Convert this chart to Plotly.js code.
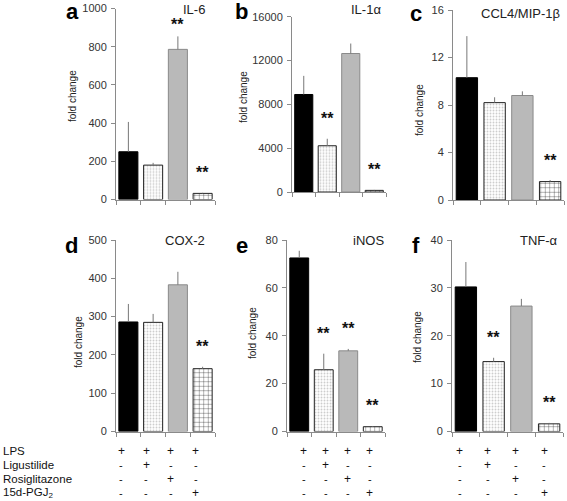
<!DOCTYPE html>
<html>
<head>
<meta charset="utf-8">
<script src="https://cdn.plot.ly/plotly-3.0.1.min.js"></script>
<style>html,body{margin:0;padding:0;background:#fff}#chart{width:567px;height:501px}</style>
</head>
<body>
<div id="chart"></div>
<script>
// ---- data ----
const groups = ["LPS", "LPS+Ligustilide", "LPS+Rosiglitazone", "LPS+15d-PGJ2"];
const panelLetters = ["a", "b", "c", "d", "e", "f"];
const panelTitles = ["IL-6", "IL-1α", "CCL4/MIP-1β", "COX-2", "iNOS", "TNF-α"];

const il6 = [250, 180, 786, 32];
const il6Err = [156, 12, 68, 3];
const il6Sig = ["", "", "**", "**"];

const il1a = [8900, 4220, 12640, 150];
const il1aErr = [1700, 640, 910, 40];
const il1aSig = ["", "**", "", "**"];

const ccl4 = [10.3, 8.2, 8.8, 1.55];
const ccl4Err = [3.5, 0.45, 0.35, 0.13];
const ccl4Sig = ["", "", "", "**"];

const cox2 = [286, 285, 383, 164];
const cox2Err = [47, 22, 34, 5];
const cox2Sig = ["", "", "", "**"];

const inos = [72.5, 25.8, 33.7, 2.0];
const inosErr = [3, 6.7, 0.8, 0.3];
const inosSig = ["", "**", "**", "**"];

const tnfa = [30.2, 14.6, 26.2, 1.6];
const tnfaErr = [5.2, 0.8, 1.5, 0.2];
const tnfaSig = ["", "**", "", "**"];

const yMax = [1000, 16000, 16, 500, 80, 40];
const yDtick = [200, 4000, 4, 100, 20, 10];

const rowLabels = ["LPS", "Ligustilide", "Rosiglitazone", "15d-PGJ<sub>2</sub>"];
const rowLPS = ["+", "+", "+", "+"];
const rowLig = ["-", "+", "-", "-"];
const rowRosi = ["-", "-", "+", "-"];
const rowPGJ = ["-", "-", "-", "+"];

// ---- styles per group ----
const groupStyle = [
  {color: "#000000", line: "#000000", pattern: null},
  {color: "#ffffff", line: "#222222", pattern: {shape: ".", fgcolor: "#cdcdcd", bgcolor: "#ffffff", size: 3, solidity: 0.3, fillmode: "replace"}},
  {color: "#b9b9b9", line: "#8a8a8a", pattern: null},
  {color: "#ffffff", line: "#222222", pattern: {shape: "+", fgcolor: "#222222", bgcolor: "#ffffff", size: 4.5, solidity: 0.15, fillmode: "replace"}}
];

// ---- layout geometry (pixels) ----
const W = 567, H = 501;
const px = (a, b) => [a / W, b / W];
const py = (bottom, top) => [1 - bottom / H, 1 - top / H];
const geom = [
  {x: px(116, 215), y: py(199.5, 8.5)},
  {x: px(292, 386), y: py(192, 16.7)},
  {x: px(453, 564), y: py(200, 10)},
  {x: px(116, 215), y: py(431.5, 240)},
  {x: px(287, 385), y: py(431.5, 240)},
  {x: px(452, 563), y: py(431.5, 240)}
];
const letterPos = [[72, 12], [241, 11], [416, 13], [71, 245], [242, 245], [416, 245]];
const titleRight = [[207, 9], [383, 10], [562, 13], [207, 240], [386, 240], [560, 240]];
const yTitlePos = [[73, 96], [243, 97], [419, 110], [78, 342], [252, 333], [417, 337]];
// table column offset (px) relative to bar centres: [base, per-column]
const tableShift = {x4: [-7, 0], x5: [4.5, -2.5], x6: [-6, 0.3]};
const rowY = [451, 464.5, 478.5, 492.5];

const vals = [il6, il1a, ccl4, cox2, inos, tnfa];
const errs = [il6Err, il1aErr, ccl4Err, cox2Err, inosErr, tnfaErr];
const sigs = [il6Sig, il1aSig, ccl4Sig, cox2Sig, inosSig, tnfaSig];

const FONT = "Arial, 'Liberation Sans', sans-serif";
const AX = "#8a8a8a";

const traces = [];
const layout = {
  width: W, height: H,
  margin: {l: 0, r: 0, t: 0, b: 0},
  paper_bgcolor: "#fff", plot_bgcolor: "rgba(0,0,0,0)",
  showlegend: false,
  font: {family: FONT, color: "#333"},
  barmode: "overlay",
  annotations: []
};

vals.forEach((v, i) => {
  const n = i + 1;
  const xa = "x" + (n === 1 ? "" : n), ya = "y" + (n === 1 ? "" : n);
  v.forEach((val, k) => {
    const st = groupStyle[k];
    const marker = {color: st.color, line: {color: st.line, width: 1}};
    if (st.pattern) marker.pattern = st.pattern;
    traces.push({
      type: "bar",
      name: groups[k],
      x: [k],
      y: [val],
      xaxis: xa, yaxis: ya,
      width: 0.77,
      marker: marker,
      error_y: {
        type: "data", symmetric: false,
        array: [errs[i][k]], arrayminus: [0],
        width: 0, thickness: 1, color: "#777"
      }
    });
  });
  const xk = "xaxis" + (n === 1 ? "" : n), yk = "yaxis" + (n === 1 ? "" : n);
  layout[xk] = {
    domain: geom[i].x, anchor: ya, range: [-0.5, 3.5],
    showline: true, linecolor: AX, linewidth: 1,
    showgrid: false, zeroline: false,
    tickmode: "array", tickvals: [-0.5, 0.5, 1.5, 2.5, 3.5], showticklabels: false,
    ticks: "outside", ticklen: 4, tickcolor: AX, fixedrange: true
  };
  layout[yk] = {
    domain: geom[i].y, anchor: xa, range: [0, yMax[i]],
    showline: true, linecolor: AX, linewidth: 1,
    showgrid: false, zeroline: false,
    tick0: 0, dtick: yDtick[i], tickformat: "d",
    ticks: "outside", ticklen: 4, tickcolor: AX,
    ticklabelstandoff: 2,
    tickfont: {family: FONT, size: 11, color: "#333"}, fixedrange: true
  };
  // significance stars: above error bar tops (in data coords)
  const plotTopPx = (1 - geom[i].y[1]) * H;
  const plotBotPx = (1 - geom[i].y[0]) * H;
  sigs[i].forEach((s, k) => {
    if (!s) return;
    const top = v[k] + errs[i][k];
    const topPx = plotBotPx - (top / yMax[i]) * (plotBotPx - plotTopPx);
    const shift = Math.min(20, topPx - plotTopPx - 16);
    layout.annotations.push({
      xref: xa, yref: ya, x: k, y: top, yshift: shift,
      text: "<b>" + s + "</b>", showarrow: false,
      font: {family: FONT, size: 16, color: "#111"}, yanchor: "middle"
    });
  });
  // panel letter
  layout.annotations.push({
    xref: "paper", yref: "paper",
    x: letterPos[i][0] / W, y: 1 - letterPos[i][1] / H,
    text: "<b>" + panelLetters[i] + "</b>", showarrow: false,
    font: {family: FONT, size: 22, color: "#000"}, xanchor: "center", yanchor: "middle"
  });
  // panel title
  layout.annotations.push({
    xref: "paper", yref: "paper",
    x: titleRight[i][0] / W, y: 1 - titleRight[i][1] / H,
    text: panelTitles[i], showarrow: false,
    font: {family: FONT, size: 13, color: "#222"}, xanchor: "right", yanchor: "middle"
  });
  // y axis title
  layout.annotations.push({
    xref: "paper", yref: "paper",
    x: yTitlePos[i][0] / W, y: 1 - yTitlePos[i][1] / H,
    text: "fold change", showarrow: false, textangle: -90,
    font: {family: FONT, size: 10, color: "#222"}, xanchor: "center", yanchor: "middle"
  });
});

// treatment table
const rows = [rowLPS, rowLig, rowRosi, rowPGJ];
rows.forEach((r, j) => {
  layout.annotations.push({
    xref: "paper", yref: "paper", x: 1 / W, y: 1 - rowY[j] / H,
    text: rowLabels[j], showarrow: false, xanchor: "left", yanchor: "middle",
    font: {family: FONT, size: 11.5, color: "#111"}
  });
  ["x4", "x5", "x6"].forEach(xa => {
    r.forEach((sgn, k) => {
      layout.annotations.push({
        xref: xa, yref: "paper", x: k, y: 1 - rowY[j] / H,
        xshift: tableShift[xa][0] + tableShift[xa][1] * k,
        text: sgn, showarrow: false, xanchor: "center", yanchor: "middle",
        font: {family: FONT, size: sgn === "+" ? 12 : 11, color: "#111"}
      });
    });
  });
});

Plotly.newPlot("chart", traces, layout, {staticPlot: true, displayModeBar: false});
</script>
</body>
</html>
